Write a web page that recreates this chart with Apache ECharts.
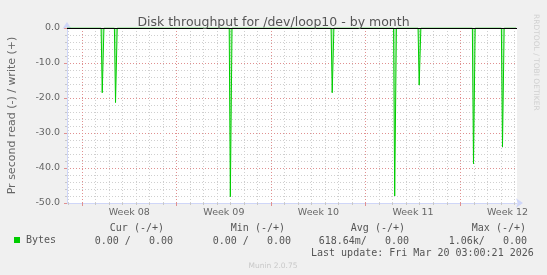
<!DOCTYPE html>
<html><head><meta charset="utf-8">
<script src="https://cdn.jsdelivr.net/npm/echarts@6/dist/echarts.min.js"></script>
<style>html,body{margin:0;padding:0;background:#f0f0f0}#c{width:547px;height:275px}</style>
</head><body><div id="c"></div>
<script>
// Hours measured from Mon Feb 16 2026 00:00 (start of Week 08)
const spikeHours  = [36.4, 60, 264, 445, 556, 599.5, 696, 747.5];
const spikeValues = [-18.5, -21.3, -48.2, -18.5, -48.0, -16.3, -38.8, -34.0];
const seriesStart = -26.7, seriesEnd = 771;
const xMin = -26.7, xMax = 772.8;
const dayTicks = [-24,0,24,48,72,96,120,144,168,192,216,240,264,288,312,336,360,384,408,432,456,480,504,528,552,576,600,624,648,672,696,720,744,768];
const weekStarts = [0,168,336,504,672];
const weekCenters = [84,252,420,588,756];
const weekLabels = ['Week 08','Week 09','Week 10','Week 11','Week 12'];
const yMin = -50, yMax = 0, yStep = 10;
const titleText = 'Disk throughput for /dev/loop10 - by month';
const yName = 'Pr second read (-) / write (+)';
const seriesName = 'Bytes';
const legendHeaders = ['Cur (-/+)', 'Min (-/+)', 'Avg (-/+)', 'Max (-/+)'];
const legendValues = ['0.00 /   0.00', '0.00 /   0.00', '618.64m/   0.00', '1.06k/   0.00'];
const lastUpdate = 'Last update: Fri Mar 20 03:00:21 2026';
const sideText = 'RRDTOOL / TOBI OETIKER';
const footText = 'Munin 2.0.75';

const data = [[seriesStart, 0]];
spikeHours.forEach((h, i) => { data.push([h - 2.5, 0], [h - 0.5, spikeValues[i]], [h + 2.5, 0]); });
data.push([seriesEnd, 0]);

const headerRight = [164, 285, 405, 526];
const valueRight = [173, 291, 409, 527];
const mono = 'DejaVu Sans Mono';
const graphics = [];
legendHeaders.forEach((t, i) => graphics.push({type:'text', x: headerRight[i], y: 228, style:{text:t, textAlign:'right', textVerticalAlign:'middle', font:'10px "DejaVu Sans Mono"', fill:'#555'}}));
legendValues.forEach((t, i) => graphics.push({type:'text', x: valueRight[i], y: 241, style:{text:t, textAlign:'right', textVerticalAlign:'middle', font:'10px "DejaVu Sans Mono"', fill:'#555'}}));
graphics.push({type:'text', x: 311, y: 253, style:{text:lastUpdate, textAlign:'left', textVerticalAlign:'middle', font:'10px "DejaVu Sans Mono"', fill:'#555'}});
graphics.push({type:'text', x: 273, y: 266, style:{text:footText, textAlign:'center', textVerticalAlign:'middle', font:'7.5px "DejaVu Sans"', fill:'#c8c8c8'}});
graphics.push({type:'text', x: 536, y: 14, rotation: -Math.PI/2, style:{text:sideText, textAlign:'left', textVerticalAlign:'middle', font:'7.5px "DejaVu Sans"', fill:'#d0d0d0'}});

const axisCol = '#CFD6F8';
const chart = echarts.init(document.getElementById('c'), null, {renderer:'canvas'});
chart.setOption({
  animation: false,
  backgroundColor: '#f0f0f0',
  title: {text: titleText, left: 'center', top: 11, textStyle: {fontFamily:'DejaVu Sans', fontSize: 12.5, fontWeight:'normal', color:'#555'}},
  grid: {left: 67, top: 28, width: 450, height: 175, show: true, backgroundColor: '#fff', borderWidth: 0, containLabel: false, outerBoundsMode: 'none'},
  legend: {data:[seriesName], left: 14, top: 235, icon: 'rect', itemWidth: 6, itemHeight: 6, padding: 0,
    textStyle: {fontFamily: mono, fontSize: 10, color:'#555', padding:[0,0,0,1]}},
  xAxis: [
    {type:'value', min:xMin, max:xMax, position:'bottom',
     axisLine:{show:true, onZero:false, lineStyle:{color:axisCol, width:1}, symbol:['none','arrow'], symbolSize:[7,7], symbolOffset:[0,6]},
     axisTick:{show:true, customValues: dayTicks, length:2, lineStyle:{color:'#c8c8c8'}},
     axisLabel:{show:false},
     splitLine:{show:true, lineStyle:{color:'#cfcfcf', type:[1,2], width:1}}},
    {type:'value', min:xMin, max:xMax, position:'bottom',
     axisLine:{show:false, onZero:false},
     axisTick:{show:true, customValues: weekStarts, length:3, lineStyle:{color:'#e09090'}},
     axisLabel:{show:true, customValues: weekCenters, formatter: v => weekLabels[weekCenters.indexOf(v)] || '',
       fontFamily:'DejaVu Sans', fontSize:9.5, color:'#666', margin:5},
     splitLine:{show:true, lineStyle:{color:'#e09090', type:[1,2], width:1}}}
  ],
  yAxis: {type:'value', min:yMin, max:yMax, interval:yStep,
    name: yName, nameLocation:'middle', nameGap: 49.5, nameTextStyle:{fontFamily:'DejaVu Sans', fontSize:11, color:'#666'},
    axisLine:{show:true, onZero:false, lineStyle:{color:axisCol, width:1}, symbol:['none','arrow'], symbolSize:[7,7], symbolOffset:[0,6]},
    axisTick:{show:true, length:3, lineStyle:{color:'#e09090'}},
    minorTick:{show:true, splitNumber:5, length:2, lineStyle:{color:'#c8c8c8'}},
    axisLabel:{formatter: v => v.toFixed(1), fontFamily:'DejaVu Sans', fontSize:9.5, color:'#666', margin:7},
    splitLine:{show:true, lineStyle:{color:'#e09090', type:[1,2], width:1}},
    minorSplitLine:{show:true, lineStyle:{color:'#cfcfcf', type:[1,2], width:1}}},
  series: [{
    name: seriesName, type:'line', xAxisIndex:0, yAxisIndex:0, data: data, showSymbol:false, symbol:'none',
    color:'#00cc00', lineStyle:{color:'#00cc00', width:1}, areaStyle:{color:'rgba(0,204,0,0.4)'},
    markLine:{silent:true, symbol:'none', label:{show:false}, data:[{yAxis:0}], lineStyle:{color:'#000', width:1, type:'solid'}}
  }],
  graphic: graphics
});
</script></body></html>
